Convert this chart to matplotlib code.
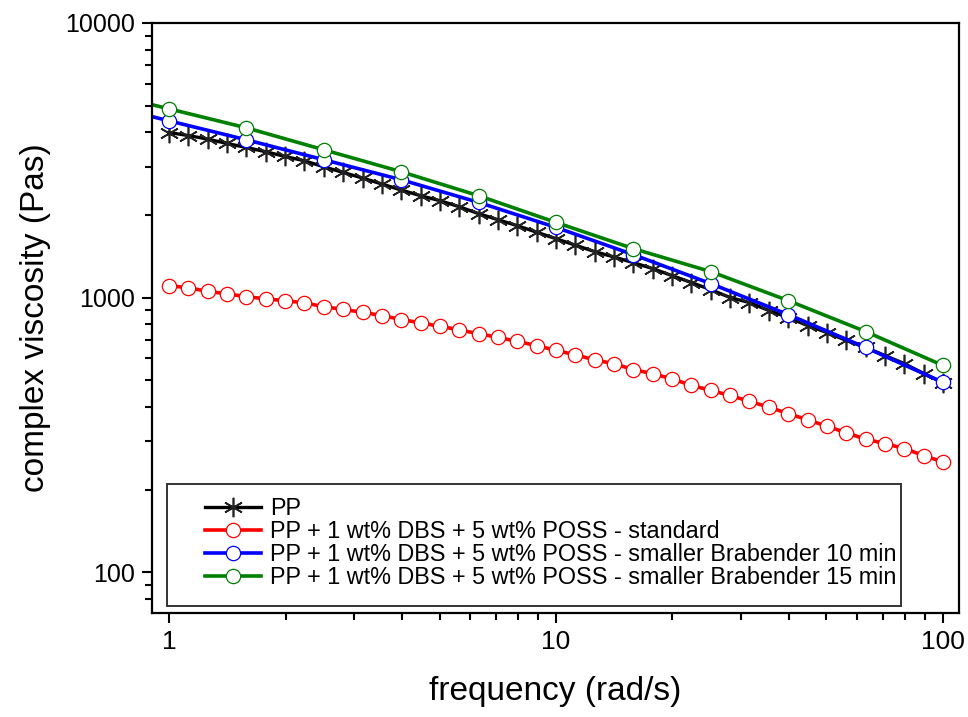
import numpy as np
import matplotlib
matplotlib.use('Agg')
import matplotlib.pyplot as plt
from matplotlib.patches import Rectangle
from matplotlib.ticker import LogLocator, NullFormatter, FixedLocator, FixedFormatter

plt.rcParams['font.family'] = ['Liberation Sans', 'DejaVu Sans']

# PP and standard sample: 20 points per decade, 1 - 100 rad/s
freq_fine = 10 ** (np.arange(41) / 20.0)
pp = [3990, 3890, 3776, 3640, 3520, 3396, 3264, 3148, 2993, 2855,
      2725, 2591, 2464, 2350, 2253, 2142, 2021, 1921, 1827, 1730,
      1638, 1552, 1470, 1405, 1340, 1275, 1202, 1134, 1069, 1000,
      959, 897, 846, 791, 746, 698, 658, 615, 575, 529, 490]
standard = [1106, 1085, 1054, 1031, 1008, 989, 975, 956, 927, 905,
            884, 860, 832, 809, 786, 763, 738, 717, 692, 669,
            642, 619, 593, 574, 547, 528, 506, 479, 459, 440,
            419, 399, 378, 359, 340, 322, 305, 294, 282, 266, 252]

# Brabender samples: 5 points per decade (first point below the x range)
freq_coarse = 10 ** (np.arange(-1, 11) / 5.0)
brab10 = [5170, 4401, 3754, 3176, 2686, 2221, 1801, 1433, 1124, 867, 658, 491]
brab15 = [5700, 4867, 4150, 3452, 2872, 2349, 1878, 1507, 1243, 975, 752, 566]

labels = ['PP',
          'PP + 1 wt% DBS + 5 wt% POSS - standard',
          'PP + 1 wt% DBS + 5 wt% POSS - smaller Brabender 10 min',
          'PP + 1 wt% DBS + 5 wt% POSS - smaller Brabender 15 min']

fig = plt.figure(figsize=(9.68, 7.17), dpi=100)
ax = fig.add_axes([0.1567, 0.145, 0.834, 0.823])

ax.plot(freq_fine, pp, color='black', lw=2.4, marker=(6, 2, 0), ms=14,
        mec='#222222', mew=1.2, label=labels[0])
ax.plot(freq_fine, standard, color='red', lw=2.6, marker='o', ms=10.3,
        mfc='white', mec='red', mew=0.9, label=labels[1])
ax.plot(freq_coarse, brab10, color='blue', lw=2.6, marker='o', ms=10.3,
        mfc='white', mec='blue', mew=0.9, label=labels[2])
ax.plot(freq_coarse, brab15, color='green', lw=2.6, marker='o', ms=10.3,
        mfc='white', mec='green', mew=0.9, label=labels[3])

ax.set_xscale('log')
ax.set_yscale('log')
ax.set_xlim(0.902, 110)
ax.set_ylim(71, 10000)

ax.xaxis.set_major_locator(FixedLocator([1, 10, 100]))
ax.xaxis.set_major_formatter(FixedFormatter(['1', '10', '100']))
ax.yaxis.set_major_locator(FixedLocator([100, 1000, 10000]))
ax.yaxis.set_major_formatter(FixedFormatter(['100', '1000', '10000']))
ax.xaxis.set_minor_locator(LogLocator(base=10, subs=np.arange(2, 10)))
ax.yaxis.set_minor_locator(LogLocator(base=10, subs=np.arange(2, 10)))
ax.xaxis.set_minor_formatter(NullFormatter())
ax.yaxis.set_minor_formatter(NullFormatter())

ax.tick_params(which='both', direction='out', top=False, right=False, width=1.5)
ax.tick_params(which='major', length=7, labelsize=18, pad=5)
ax.tick_params(which='minor', length=5)
ax.tick_params(axis='x', which='major', labelsize=19)
for s in ax.spines.values():
    s.set_linewidth(1.6)

ax.set_xlabel('frequency (rad/s)', fontsize=24, labelpad=16)
ax.set_ylabel('complex viscosity (Pas)', fontsize=24, labelpad=10)

ax.add_patch(Rectangle((0.019, 0.012), 0.909, 0.207, transform=ax.transAxes,
                       fill=True, facecolor='white', edgecolor='#333333',
                       lw=1.4, zorder=4))
leg = ax.legend(loc='upper left', bbox_to_anchor=(0.066, 0.197), frameon=False,
                fontsize=16.8, borderpad=0, borderaxespad=0, handlelength=2.4,
                handletextpad=0.4, labelspacing=0.0)
leg.set_zorder(5)

fig.savefig('out.png', dpi=100)
